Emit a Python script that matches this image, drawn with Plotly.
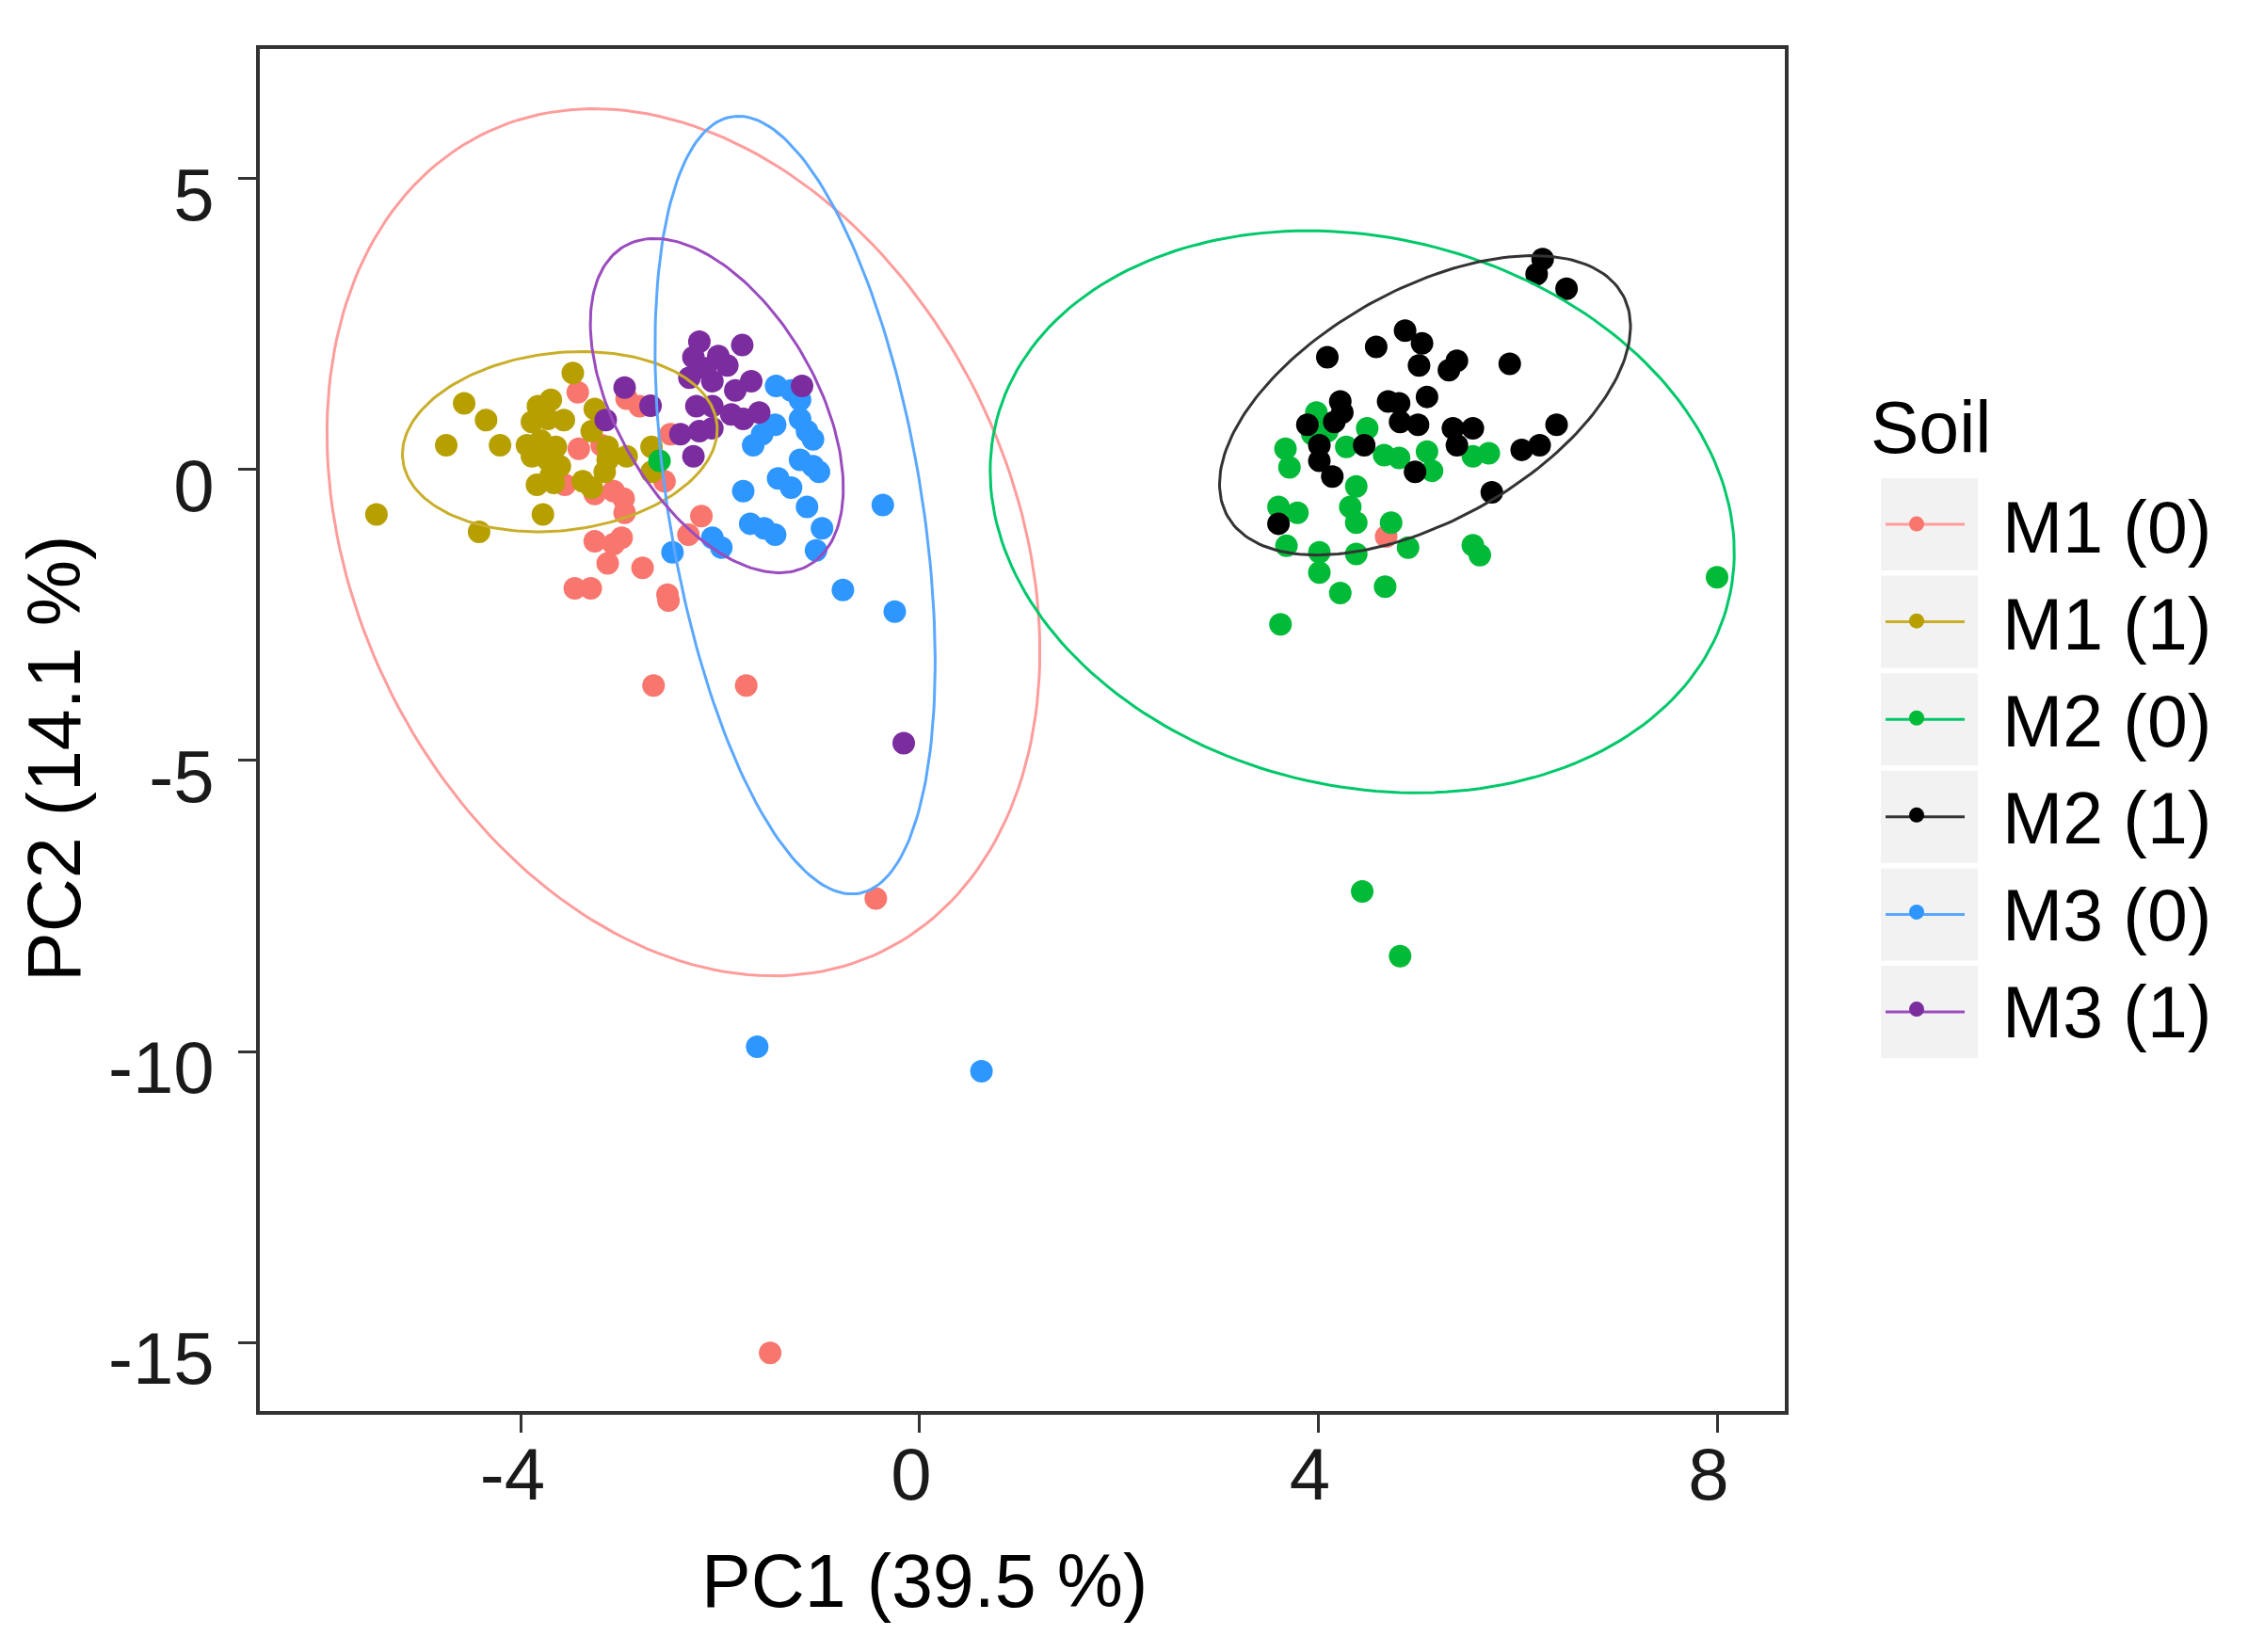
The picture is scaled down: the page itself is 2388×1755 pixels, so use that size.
import numpy as np
import plotly.graph_objects as go

# groups, in legend order
soils = ["M1 (0)", "M1 (1)", "M2 (0)", "M2 (1)", "M3 (0)", "M3 (1)"]
point_colors = ["#F8766D", "#B79F00", "#00BA38", "#000000", "#2E96FF", "#7B2C9E"]
ellipse_colors = ["#FF9C9C", "#C9AE2A", "#00C86A", "#333333", "#5AA8FF", "#9A4CBF"]

# PCA scores
m1_0_x = [-3.43, -2.94, -2.81, -3.42, -3.19, -3.56, -3.26, -3.07, -2.97, -2.96,
          -2.56, -2.50, -2.19, -2.32, -3.26, -3.07, -2.99, -3.13, -2.78, -3.46,
          -3.30, -2.53, -2.52, -2.67, -1.74, -1.50, -0.44, 4.68]
m1_0_y = [1.33, 1.22, 1.09, 0.36, 0.42, -0.26, -0.42, -0.37, -0.50, -0.74,
          -0.20, 0.61, -0.80, -1.12, -1.23, -1.28, -1.17, -1.61, -1.69, -2.04,
          -2.04, -2.15, -2.25, -3.71, -3.71, -15.18, -7.37, -1.15]

m1_1_x = [-3.48, -4.57, -4.35, -4.75, -4.21, -5.45, -4.42, -3.78, -3.83, -3.70,
          -3.89, -3.73, -3.57, -3.94, -3.80, -3.65, -3.89, -3.73, -3.61, -3.70,
          -3.84, -3.67, -3.26, -3.29, -3.13, -3.38, -3.29, -3.16, -3.13, -2.94,
          -2.69, -2.69]
m1_1_y = [1.66, 1.14, 0.85, 0.42, 0.42, -0.77, -1.07, -0.77, 1.09, 1.20,
          0.82, 0.87, 0.85, 0.42, 0.50, 0.39, 0.23, 0.17, 0.06, -0.10,
          -0.26, -0.23, 1.04, 0.66, 0.39, -0.20, -0.31, -0.04, 0.17, 0.23,
          0.39, -0.04]

m2_0_x = [3.98, 3.94, 4.09, 3.67, 3.71, 4.28, 4.49, 4.66, 4.81, 5.09,
          5.14, 5.55, 5.71, 4.38, 4.32, 4.38, 3.60, 3.79, 4.73, 3.68,
          4.01, 4.38, 4.90, 5.55, 5.62, 4.01, 4.22, 4.67, 3.62, 8.00,
          4.44, 4.82, -2.61]
m2_0_y = [0.98, 0.61, 0.66, 0.36, 0.04, 0.39, 0.71, 0.25, 0.20, 0.31,
          -0.02, 0.23, 0.28, -0.29, -0.64, -0.91, -0.64, -0.74, -0.91, -1.31,
          -1.42, -1.45, -1.34, -1.30, -1.47, -1.77, -2.12, -2.01, -2.66, -1.85,
          -7.25, -8.36, 0.15]

m2_1_x = [6.25, 6.19, 6.49, 4.87, 4.58, 5.04, 5.01, 4.09, 5.39, 5.31,
          5.92, 4.22, 4.70, 4.81, 5.09, 4.24, 4.16, 3.89, 4.82, 5.00,
          5.35, 5.55, 5.39, 6.39, 6.04, 6.22, 4.01, 4.46, 4.01, 4.14,
          4.97, 5.74, 3.60]
m2_1_y = [3.62, 3.36, 3.11, 2.39, 2.11, 2.17, 1.79, 1.93, 1.87, 1.71,
          1.82, 1.17, 1.17, 1.14, 1.25, 0.98, 0.82, 0.77, 0.82, 0.77,
          0.71, 0.71, 0.42, 0.77, 0.34, 0.42, 0.42, 0.42, 0.15, -0.12,
          -0.04, -0.39, -0.93]

m3_0_x = [-1.44, -1.29, -1.20, -1.20, -1.13, -1.07, -1.45, -1.58, -1.67, -1.20,
          -1.01, -1.07, -1.42, -1.29, -1.77, -1.13, -0.98, -1.04, -1.70, -1.56,
          -1.45, -2.08, -1.99, -2.48, -0.37, -0.77, -0.25, -1.63, 0.62]
m3_0_y = [1.44, 1.36, 1.20, 0.87, 0.66, 0.52, 0.77, 0.61, 0.42, 0.17,
          -0.04, 0.06, -0.15, -0.31, -0.37, -0.64, -1.01, -1.39, -0.93, -1.01,
          -1.12, -1.17, -1.34, -1.42, -0.61, -2.07, -2.44, -9.92, -10.34]

m3_1_x = [-2.21, -1.78, -2.27, -2.02, -2.15, -1.93, -2.31, -2.08, -1.69, -1.85,
          -2.24, -2.08, -1.89, -1.77, -1.61, -2.40, -2.21, -2.08, -2.27, -1.18,
          -2.70, -2.96, -3.15, -0.16]
m3_1_y = [2.20, 2.14, 1.93, 1.95, 1.74, 1.79, 1.58, 1.52, 1.52, 1.36,
          1.09, 1.09, 0.95, 0.87, 0.98, 0.61, 0.66, 0.71, 0.23, 1.44,
          1.10, 1.41, 0.85, -4.70]

# 95% ellipses: centre, semi-axes, tilt (deg)
ell_cx = [-2.37, -3.61, 4.44, 5.07, -1.25, -2.035]
ell_cy = [-1.25, 0.48, -0.725, 1.105, -0.61, 1.10]
ell_a = [7.52, 1.67, 4.90, 2.91, 6.71, 2.95]
ell_b = [3.43, 1.45, 3.64, 1.55, 1.28, 1.075]
ell_angle = [98.7, 41.0, 104.6, 56.5, 95.05, 104.2]

x_tick_vals = [-4, 0, 4, 8]
x_tick_text = ["-4", "0", "4", "8"]
y_tick_vals = [-15, -10, -5, 0, 5]
y_tick_text = ["-15", "-10", "-5", "0", "5"]

xs = [m1_0_x, m1_1_x, m2_0_x, m2_1_x, m3_0_x, m3_1_x]
ys = [m1_0_y, m1_1_y, m2_0_y, m2_1_y, m3_0_y, m3_1_y]

FONT = "Liberation Sans, Arial, sans-serif"
W, H = 2388, 1755
L, R, T, B = 268, 1888, 44, 1491  # plot area in pixels


def px(x):
    return (x - L) / (R - L)


def py(y):
    return (B - y) / (B - T)


fig = go.Figure()

for i, s in enumerate(soils):
    fig.add_trace(go.Scatter(x=xs[i], y=ys[i], mode="markers", name=s,
                             marker=dict(color=point_colors[i], size=24),
                             showlegend=False, legendgroup=s))

t = np.linspace(0, 2 * np.pi, 200)
for i, s in enumerate(soils):
    th = np.deg2rad(ell_angle[i])
    ex = ell_cx[i] + ell_a[i] * np.cos(t) * np.cos(th) - ell_b[i] * np.sin(t) * np.sin(th)
    ey = ell_cy[i] + ell_a[i] * np.cos(t) * np.sin(th) + ell_b[i] * np.sin(t) * np.cos(th)
    fig.add_trace(go.Scatter(x=ex, y=ey, mode="lines", showlegend=False,
                             legendgroup=s, hoverinfo="skip",
                             line=dict(color=ellipse_colors[i], width=3)))

# legend entries only
for i, s in enumerate(soils):
    fig.add_trace(go.Scatter(x=[None], y=[None], mode="markers", name=s,
                             legendgroup=s,
                             marker=dict(color=point_colors[i], size=24)))

# ggplot-like grey legend keys with a line through them
shapes = []
key_top, key_step, key_h = 500, 103.6, 98
for i in range(len(soils)):
    y0 = key_top + i * key_step
    shapes.append(dict(type="rect", xref="paper", yref="paper", layer="below",
                       x0=px(1990), x1=px(2093), y0=py(y0), y1=py(y0 + key_h),
                       fillcolor="#F2F2F2", line=dict(width=0)))
    shapes.append(dict(type="line", xref="paper", yref="paper", layer="below",
                       x0=px(1995), x1=px(2079), y0=py(y0 + key_h / 2), y1=py(y0 + key_h / 2),
                       line=dict(color=ellipse_colors[i], width=3)))

axis_common = dict(showgrid=False, zeroline=False, showline=True, mirror=True,
                   linecolor="#333333", linewidth=3.5, ticks="outside", ticklen=19,
                   tickwidth=3, tickcolor="#333333",
                   tickfont=dict(family=FONT, size=78, color="#1a1a1a"))

fig.update_layout(
    width=W, height=H, autosize=False,
    margin=dict(l=L, r=W - R, t=T, b=H - B, pad=0),
    paper_bgcolor="white", plot_bgcolor="white",
    font=dict(family=FONT, size=77, color="#000000"),
    xaxis=dict(range=[-6.62, 8.68], tickvals=x_tick_vals, ticktext=x_tick_text,
               ticklabelstandoff=-22, ticklabelshift=-9, **axis_common),
    yaxis=dict(range=[-16.18, 7.23], tickvals=y_tick_vals, ticktext=y_tick_text,
               ticklabelstandoff=10, ticklabelshift=17, **axis_common),
    legend=dict(x=px(1937), y=py(492),
                xanchor="left", yanchor="top", bgcolor="rgba(0,0,0,0)",
                itemwidth=172, tracegroupgap=0, font=dict(size=77)),
    shapes=shapes,
    annotations=[
        dict(text="Soil", xref="paper", yref="paper", x=px(1977), y=py(446),
             xanchor="left", yanchor="middle", showarrow=False,
             font=dict(family=FONT, size=77, color="#000000")),
        dict(text="PC1 (39.5 %)", xref="paper", yref="paper", x=px(974), y=py(1672),
             xanchor="center", yanchor="middle", showarrow=False,
             font=dict(family=FONT, size=79, color="#000000")),
        dict(text="PC2 (14.1 %)", xref="paper", yref="paper", x=px(50), y=py(798),
             xanchor="center", yanchor="middle", showarrow=False, textangle=-90,
             font=dict(family=FONT, size=79, color="#000000")),
    ],
)

fig.write_html("out.html")
